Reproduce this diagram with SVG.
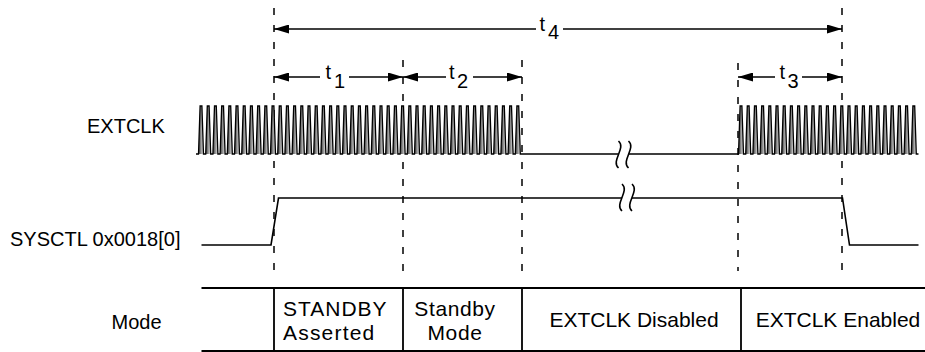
<svg xmlns="http://www.w3.org/2000/svg" width="925" height="352" viewBox="0 0 925 352">
<style>
text{font-family:"Liberation Sans",Arial,Helvetica,sans-serif;fill:#000}
.lbl{font-size:20px}
.cell{font-size:21px}
.tl{font-size:20px}
.mid{text-anchor:middle}
.w{fill:none;stroke:#000;stroke-width:1.6}
.clk{fill:url(#pulse);stroke:#000;stroke-width:1.3;stroke-linejoin:miter}
.dash{fill:none;stroke:#000;stroke-width:1.5;stroke-dasharray:7 10}
.dim{fill:none;stroke:#000;stroke-width:1.5;marker-end:url(#ah)}
.tab{fill:none;stroke:#000;stroke-width:1.8}
</style>
<defs>
<marker id="ah" viewBox="0 0 15 9" refX="15" refY="4.5" markerWidth="15" markerHeight="9" markerUnits="userSpaceOnUse" orient="auto"><path d="M0,0L15,4.5L0,9z" fill="#000"/></marker>
<linearGradient id="pg" x1="0" y1="0" x2="1" y2="0"><stop offset="0" stop-color="#444"/><stop offset="0.25" stop-color="#777"/><stop offset="0.5" stop-color="#bbb"/><stop offset="0.7" stop-color="#eee"/><stop offset="1" stop-color="#fff"/></linearGradient>
<pattern id="pulse" patternUnits="userSpaceOnUse" x="198.5" y="0" width="7.2" height="352"><rect x="0" y="0" width="7.2" height="352" fill="url(#pg)"/></pattern>
</defs>

<g id="timing-markers">
<path class="dash" d="M274,8V271M403,60V271M522,60V271M738,63V271M842,8V271"/>
</g>

<g id="connectors">
<path class="dim" d="M536,29H274"/><path class="dim" d="M563,29H842"/>
<path class="dim" d="M320,77H274"/><path class="dim" d="M349,77H403"/>
<path class="dim" d="M446,77H403"/><path class="dim" d="M473,77H522"/>
<path class="dim" d="M775,77H738"/><path class="dim" d="M802,77H842"/>
</g>

<g id="t4"><text class="tl" x="539.5" y="31">t<tspan x="548" y="38.5">4</tspan></text></g>
<g id="t1"><text class="tl" x="325.5" y="79">t<tspan x="334" y="87.5">1</tspan></text></g>
<g id="t2"><text class="tl" x="449" y="79">t<tspan x="457" y="87.5">2</tspan></text></g>
<g id="t3"><text class="tl" x="779.5" y="79">t<tspan x="787.5" y="87.5">3</tspan></text></g>

<g id="extclk">
<text class="lbl" x="87" y="132.5">EXTCLK</text>
<path class="clk" d="M196,154H198.5
l1.6-48h1.8l1.6 48h2.2l1.6-48h1.8l1.6 48h2.2l1.6-48h1.8l1.6 48h2.2l1.6-48h1.8l1.6 48h2.2l1.6-48h1.8l1.6 48h2.2
l1.6-48h1.8l1.6 48h2.2l1.6-48h1.8l1.6 48h2.2l1.6-48h1.8l1.6 48h2.2l1.6-48h1.8l1.6 48h2.2l1.6-48h1.8l1.6 48h2.2
l1.6-48h1.8l1.6 48h2.2l1.6-48h1.8l1.6 48h2.2l1.6-48h1.8l1.6 48h2.2l1.6-48h1.8l1.6 48h2.2l1.6-48h1.8l1.6 48h2.2
l1.6-48h1.8l1.6 48h2.2l1.6-48h1.8l1.6 48h2.2l1.6-48h1.8l1.6 48h2.2l1.6-48h1.8l1.6 48h2.2l1.6-48h1.8l1.6 48h2.2
l1.6-48h1.8l1.6 48h2.2l1.6-48h1.8l1.6 48h2.2l1.6-48h1.8l1.6 48h2.2l1.6-48h1.8l1.6 48h2.2l1.6-48h1.8l1.6 48h2.2
l1.6-48h1.8l1.6 48h2.2l1.6-48h1.8l1.6 48h2.2l1.6-48h1.8l1.6 48h2.2l1.6-48h1.8l1.6 48h2.2l1.6-48h1.8l1.6 48h2.2
l1.6-48h1.8l1.6 48h2.2l1.6-48h1.8l1.6 48h2.2l1.6-48h1.8l1.6 48h2.2l1.6-48h1.8l1.6 48h2.2l1.6-48h1.8l1.6 48h2.2
l1.6-48h1.8l1.6 48h2.2l1.6-48h1.8l1.6 48h2.2l1.6-48h1.8l1.6 48h2.2l1.6-48h1.8l1.6 48h2.2l1.6-48h1.8l1.6 48h2.2
l1.6-48h1.8l1.6 48h2.2l1.6-48h1.8l1.6 48h2.2l1.6-48h1.8l1.6 48h2.2l1.6-48h1.8l1.6 48h2.2l1.6-48h1.8l1.6 48h2.2
H618.5"/>
<path class="clk" d="M628.5,154H738.5
l1.6-48h1.8l1.6 48h2.2l1.6-48h1.8l1.6 48h2.2l1.6-48h1.8l1.6 48h2.2l1.6-48h1.8l1.6 48h2.2l1.6-48h1.8l1.6 48h2.2
l1.6-48h1.8l1.6 48h2.2l1.6-48h1.8l1.6 48h2.2l1.6-48h1.8l1.6 48h2.2l1.6-48h1.8l1.6 48h2.2l1.6-48h1.8l1.6 48h2.2
l1.6-48h1.8l1.6 48h2.2l1.6-48h1.8l1.6 48h2.2l1.6-48h1.8l1.6 48h2.2l1.6-48h1.8l1.6 48h2.2l1.6-48h1.8l1.6 48h2.2
l1.6-48h1.8l1.6 48h2.2l1.6-48h1.8l1.6 48h2.2l1.6-48h1.8l1.6 48h2.2l1.6-48h1.8l1.6 48h2.2l1.6-48h1.8l1.6 48h2.2
l1.6-48h1.8l1.6 48h2.2l1.6-48h1.8l1.6 48h2.2l1.6-48h1.8l1.6 48h2.2l1.6-48h1.8l1.6 48h2.2l1.6-48h1.8l1.6 48h2.2"/>
<path class="w" stroke-width="1.3" d="M618.5,141C626.5,148 610.5,161 618.5,168M628.5,141C636.5,148 620.5,161 628.5,168"/>
</g>

<g id="sysctl">
<text class="lbl" x="10" y="246">SYSCTL 0x0018[0]</text>
<path class="w" d="M201.5,245H271L278.5,198H622M632,198H842.5L849.5,245H918.5"/>
<path class="w" stroke-width="1.3" d="M622,184C630,191 614,204 622,211M632,184C640,191 624,204 632,211"/>
</g>

<g id="mode-table">
<path class="tab" d="M201.5,288H925M201.5,351H925M274,288V351M403,288V351M522,288V351M741,288V351"/>
<g id="mode-label"><text class="lbl mid" x="136.5" y="329">Mode</text></g>
<g id="cell-standby-asserted"><text class="cell" x="283" y="316" letter-spacing="1">STANDBY</text><text class="cell" x="283" y="340" letter-spacing="1.2">Asserted</text></g>
<g id="cell-standby-mode"><text class="cell mid" x="455" y="316" letter-spacing="0.6">Standby</text><text class="cell mid" x="455" y="340" letter-spacing="0.6">Mode</text></g>
<g id="cell-extclk-disabled"><text class="cell mid" x="634" y="327">EXTCLK Disabled</text></g>
<g id="cell-extclk-enabled"><text class="cell mid" x="838" y="327">EXTCLK Enabled</text></g>
</g>
</svg>
